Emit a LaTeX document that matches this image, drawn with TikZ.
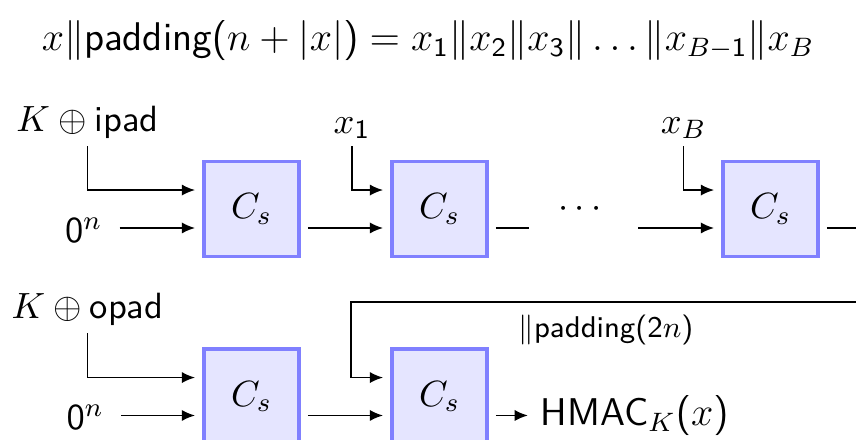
\documentclass[11pt,tikz,border=0pt]{standalone}
\usetikzlibrary{arrows.meta}
\DeclareSymbolFont{operators}{OT1}{cmss}{m}{n}
\begin{document}
\begin{tikzpicture}[x=0.3pt,y=-0.3pt,
  cs/.style={draw=blue!50, fill=blue!10, line width=1pt, minimum size=1cm, inner sep=0pt, outer sep=2.7pt},
  arr/.style={-{Latex[length=4pt,width=3.4pt]}, line width=0.55pt},
  ln/.style={line width=0.55pt},
  lab/.style={inner sep=2pt, anchor=south},
  zlab/.style={anchor=base west, inner sep=0pt}]
\useasboundingbox (0,0) rectangle (856,439);
\clip (0,0) rectangle (856,439);

\node (title) at (428,40) {\large $x\|\textsf{padding}(n+|x|)=x_1\|x_2\|x_3\|\ldots\|x_{B-1}\|x_B$};

% boxes
\node[cs] (a1) at (251.5,209) {$C_s$};
\node[cs] (a2) at (439.5,209) {$C_s$};
\node[cs] (a3) at (770.5,209) {$C_s$};
\node[cs] (c1) at (251.5,396.5) {$C_s$};
\node[cs] (c2) at (439.5,396.5) {$C_s$};

\foreach \b in {a1,a2,a3,c1,c2}{
  \coordinate (\b-i1) at ([yshift=0.2cm]\b.west);
  \coordinate (\b-i2) at ([yshift=-0.2cm]\b.west);
  \coordinate (\b-o) at ([yshift=-0.2cm]\b.east);
}

% labels
\node[lab] (kip) at (87.5,146) {$K\oplus\textsf{ipad}$};
\node[lab] (x1) at (352,146) {$x_1$};
\node[lab] (xB) at (683.5,146) {$x_B$};
\node[lab] (kop) at (87.5,333) {$K\oplus\textsf{opad}$};
\node[zlab] (z1) at (64.5,242.5) {$0^n$};
\node[zlab] (z2) at (66,429.5) {$0^n$};
\node[anchor=base] (dots) at (580,217) {$\cdots$};
\node (pad) at (606,330) {\footnotesize $\|\textsf{padding}(2n)$};

% top row
\draw[arr] (kip.south) |- (a1-i1);
\draw[arr,shorten <=5pt] (z1.east |- a1-i2) -- (a1-i2);
\draw[arr] (a1-o) -- (a2-i2);
\draw[arr] (x1.south) |- (a2-i1);
\path (a2-o) ++(33,0) coordinate (g1);
\draw[ln] (a2-o) -- (g1);
\path (a3-i2) ++(-76,0) coordinate (g2);
\draw[arr] (g2) -- (a3-i2);
\draw[arr] (xB.south) |- (a3-i1);

% feedback
\coordinate (fr) at (900,302);
\coordinate (fl) at (351,302);
\draw[arr] (a3-o) -| (fr) -- (fl) |- (c2-i1);

% bottom row
\draw[arr] (kop.south) |- (c1-i1);
\draw[arr,shorten <=5pt] (z2.east |- c1-i2) -- (c1-i2);
\draw[arr] (c1-o) -- (c2-i2);
\path (c2-o) ++(32,0) node[anchor=west] (hmac) {\fontsize{11.6}{14}\selectfont\textsf{HMAC}$_K(x)$};
\draw[arr] (c2-o) -- (hmac.west);
\end{tikzpicture}
\end{document}
